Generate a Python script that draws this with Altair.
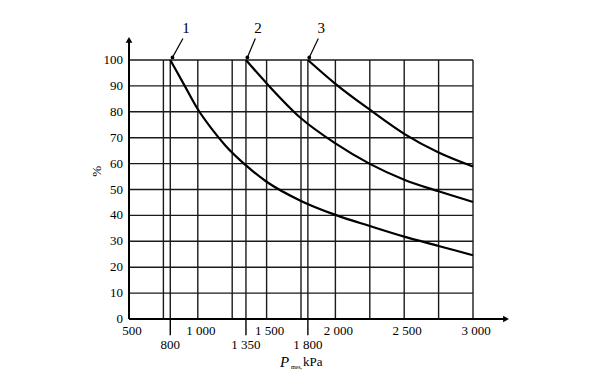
import altair as alt
import pandas as pd

FONT = "Liberation Serif"

# ---- data ----
curve1_x = [800, 900, 1000, 1100, 1200, 1350, 1500, 1750, 2000, 2250, 2500, 2750, 3000]
curve1_y = [100, 90.5, 81, 73.5, 67, 59.3, 53, 45.6, 40.2, 35.9, 31.8, 28.2, 24.6]
curve2_x = [1350, 1500, 1750, 2000, 2250, 2500, 2750, 3000]
curve2_y = [100, 91, 77.5, 67.8, 59.9, 53.8, 49.3, 45.2]
curve3_x = [1800, 2000, 2250, 2500, 2750, 3000]
curve3_y = [100, 90.8, 80.8, 71.5, 64.3, 58.9]

x_grid = [750, 800, 1000, 1250, 1350, 1500, 1750, 1800, 2000, 2250, 2500, 2750, 3000]
y_grid = [10, 20, 30, 40, 50, 60, 70, 80, 90, 100]
y_labels = [0, 10, 20, 30, 40, 50, 60, 70, 80, 90, 100]
x_labels_row1 = [500, 1000, 1500, 2000, 2500, 3000]
x_labels_row1_text = ["500", "1 000", "1 500", "2 000", "2 500", "3 000"]
x_labels_row2 = [800, 1350, 1800]
x_labels_row2_text = ["800", "1 350", "1 800"]

curve_names = ["1", "2", "3"]
label_x = [914, 1438, 1898]
label_y = [112.5, 112.5, 112.5]
leader_x1 = [892, 1418, 1876]
leader_y1 = [108.3, 108.3, 108.3]
leader_x2 = [816, 1360, 1810]
leader_y2 = [101, 101, 101]

XMIN, XMAX = 500, 3000
YMIN, YMAX = 0, 100

# ---- tables ----
rows = []
for name, xs_, ys_ in [("1", curve1_x, curve1_y), ("2", curve2_x, curve2_y), ("3", curve3_x, curve3_y)]:
    for i, (a, b) in enumerate(zip(xs_, ys_)):
        rows.append({"curve": name, "x": a, "y": b, "order": i})
curves = pd.DataFrame(rows)

vgrid = pd.DataFrame({"x": x_grid, "y": [YMIN] * len(x_grid), "y2": [YMAX] * len(x_grid)})
hgrid = pd.DataFrame({"y": y_grid, "x": [XMIN] * len(y_grid), "x2": [XMAX] * len(y_grid)})
ylab = pd.DataFrame({"y": y_labels, "x": [XMIN] * len(y_labels), "t": [str(v) for v in y_labels]})
xlab1 = pd.DataFrame({"x": x_labels_row1, "y": [YMIN] * len(x_labels_row1), "t": x_labels_row1_text})
xlab2 = pd.DataFrame({"x": x_labels_row2, "y": [YMIN] * len(x_labels_row2), "t": x_labels_row2_text})
extra_ticks = pd.DataFrame({"x": x_labels_row2, "y": [YMIN] * 3, "y2": [-6.3] * 3})
clabels = pd.DataFrame({"x": label_x, "y": label_y, "t": curve_names})
leaders = pd.DataFrame({"x": leader_x1, "y": leader_y1, "x2": leader_x2, "y2": leader_y2})

xs = alt.Scale(domain=[XMIN, XMAX], nice=False, zero=False)
ys = alt.Scale(domain=[YMIN, YMAX], nice=False, zero=False)


def X(field="x"):
    return alt.X(field, type="quantitative", scale=xs, axis=None)


def Y(field="y"):
    return alt.Y(field, type="quantitative", scale=ys, axis=None)


grid_v = alt.Chart(vgrid).mark_rule(color="#1a1a1a", strokeWidth=1.4).encode(
    x=X(), y=Y(), y2="y2")
grid_h = alt.Chart(hgrid).mark_rule(color="#1a1a1a", strokeWidth=1.4).encode(
    y=Y(), x=X(), x2="x2")

axis_df = pd.DataFrame({"x": [XMIN, XMIN], "y": [YMIN, YMIN], "x2": [3240, XMIN], "y2": [YMIN, 107.8]})
axes = alt.Chart(axis_df).mark_rule(color="black", strokeWidth=2).encode(
    x=X(), y=Y(), x2="x2", y2="y2")

arrow_r = alt.Chart(pd.DataFrame({"x": [3240], "y": [YMIN]})).mark_point(
    shape="triangle-right", filled=True, color="black", size=45, opacity=1).encode(x=X(), y=Y())
arrow_u = alt.Chart(pd.DataFrame({"x": [XMIN], "y": [107.8]})).mark_point(
    shape="triangle-up", filled=True, color="black", size=45, opacity=1).encode(x=X(), y=Y())

ticks = alt.Chart(extra_ticks).mark_rule(color="black", strokeWidth=1.4).encode(
    x=X(), y=Y(), y2="y2")

lines = alt.Chart(curves).mark_line(color="black", strokeWidth=2.2, interpolate="monotone").encode(
    x=X(), y=Y(), detail="curve:N", order="order:Q")

ylab_t = alt.Chart(ylab).mark_text(font=FONT, fontSize=13, align="right", baseline="middle", dx=-6, color="black").encode(
    x=X(), y=Y(), text="t:N")
xlab1_t = alt.Chart(xlab1).mark_text(font=FONT, fontSize=13, align="center", baseline="middle", dy=12, dx=3, color="black").encode(
    x=X(), y=Y(), text="t:N")
xlab2_t = alt.Chart(xlab2).mark_text(font=FONT, fontSize=13, align="center", baseline="middle", dy=26, color="black").encode(
    x=X(), y=Y(), text="t:N")

clab_t = alt.Chart(clabels).mark_text(font=FONT, fontSize=15, align="center", baseline="middle", color="black").encode(
    x=X(), y=Y(), text="t:N")
lead = alt.Chart(leaders).mark_rule(color="black", strokeWidth=1.2).encode(
    x=X(), y=Y(), x2="x2", y2="y2")
lead_tip = alt.Chart(leaders).mark_point(shape="circle", filled=True, color="black", size=14, opacity=1).encode(
    x=X("x2"), y=Y("y2"))

# rotated text: dy moves it horizontally on screen
pct = alt.Chart(pd.DataFrame({"x": [XMIN], "y": [57], "t": ["%"]})).mark_text(
    font=FONT, fontSize=13, angle=270, align="center", baseline="middle", dy=-32, color="black").encode(
    x=X(), y=Y(), text="t:N")

title_p = alt.Chart(pd.DataFrame({"x": [1630], "y": [-16.6], "t": ["P"]})).mark_text(
    font=FONT, fontSize=15, fontStyle="italic", align="center", baseline="middle", color="black").encode(
    x=X(), y=Y(), text="t:N")
title_sub = alt.Chart(pd.DataFrame({"x": [1677], "y": [-18.6], "t": ["mes,"]})).mark_text(
    font=FONT, fontSize=6, align="left", baseline="middle", color="black").encode(
    x=X(), y=Y(), text="t:N")
title_unit = alt.Chart(pd.DataFrame({"x": [1765], "y": [-16.6], "t": ["kPa"]})).mark_text(
    font=FONT, fontSize=13, align="left", baseline="middle", color="black").encode(
    x=X(), y=Y(), text="t:N")

chart = alt.layer(
    grid_v, grid_h, ticks, axes, arrow_r, arrow_u, lines,
    ylab_t, xlab1_t, xlab2_t, clab_t, lead, lead_tip, pct,
    title_p, title_sub, title_unit,
).properties(
    width=344, height=259,
    autosize=alt.AutoSizeParams(type="none"),
    padding={"left": 129, "top": 60, "right": 127, "bottom": 56},
    background="white",
).configure_view(stroke=None)

chart.save("out.html", embed_options={"renderer": "svg", "actions": False})
